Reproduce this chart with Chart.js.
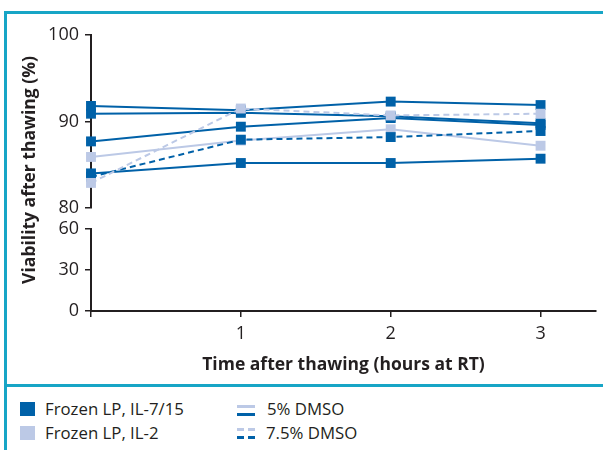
<!DOCTYPE html>
<html>
<head>
<meta charset="utf-8">
<script src="https://cdn.jsdelivr.net/npm/chart.js@4"></script>
<style>
    body { margin: 0; background: #fff; font-family: 'Open Sans', sans-serif; color: #231f20; }
    #wrap { position: relative; width: 603px; height: 450px; overflow: hidden; }
    .frame { position: absolute; left: 4px; top: 11px; right: -10px; bottom: -10px;
        border-left: 3px solid #17a5c6; border-top: 3px solid #17a5c6; }
    .divider { position: absolute; left: 4px; right: 0; top: 384px; height: 3px; background: #17a5c6; }
    canvas { position: absolute; left: 0; top: 0; }
    .lg { position: absolute; font-size: 16.8px; line-height: 20px; white-space: nowrap; }
    .sw { position: absolute; width: 15px; height: 14px; }
    .ln { position: absolute; height: 3px; }
</style>
</head>
<body>
<div id="wrap">
    <div class="frame"></div>
    <canvas id="myChart" width="603" height="384"></canvas>
    <div class="divider"></div>

    <div class="sw" style="left:20px;top:402px;background:#0061a8"></div>
    <div class="lg" style="left:45px;top:399px">Frozen LP, IL-7/15</div>
    <div class="sw" style="left:20px;top:426px;background:#bcc9e6"></div>
    <div class="lg" style="left:45px;top:423px">Frozen LP, IL-2</div>

    <div class="ln" style="left:237px;top:405px;width:18px;background:#bcc9e6"></div>
    <div class="ln" style="left:237px;top:413px;width:18px;background:#0061a8"></div>
    <div class="lg" style="left:267px;top:399px">5% DMSO</div>
    <div class="ln" style="left:237px;top:428px;width:7px;background:#bcc9e6"></div>
    <div class="ln" style="left:248px;top:428px;width:7px;background:#bcc9e6"></div>
    <div class="ln" style="left:237px;top:436px;width:7px;background:#0061a8"></div>
    <div class="ln" style="left:248px;top:436px;width:7px;background:#0061a8"></div>
    <div class="lg" style="left:266px;top:423px">7.5% DMSO</div>
</div>
<script>
'use strict';
//Data
const hours = [0, 1, 2, 3];
const xTicks = [0, 1, 2, 3];
const yTopTicks = [80, 90, 100];
const yLowTicks = [0, 30, 60];

// Frozen LP, IL-7/15, 5% DMSO (four donors)
const il715Dmso5A = [91.8, 91.3, 92.3, 91.9];
const il715Dmso5B = [90.9, 91.0, 90.6, 89.8];
const il715Dmso5C = [87.7, 89.4, 90.4, 89.6];
const il715Dmso5D = [84.0, 85.2, 85.2, 85.7];
// Frozen LP, IL-7/15, 7.5% DMSO
const il715Dmso75 = [83.6, 87.9, 88.2, 88.9];
// Frozen LP, IL-2, 5% DMSO
const il2Dmso5 = [85.9, 87.8, 89.1, 87.2];
// Frozen LP, IL-2, 7.5% DMSO
const il2Dmso75 = [82.9, 91.5, 90.7, 90.9];

const xTitle = 'Time after thawing (hours at RT)';
const yTitle = 'Viability after thawing (%)';

const dark = '#0061a8';
const light = '#bcc9e6';
const ink = '#231f20';
const font = 'Open Sans';

function series(values, color, dashed) {
    return {
        data: values.map((v, i) => ({ x: hours[i], y: v })),
        yAxisID: 'yTop',
        borderColor: color,
        borderWidth: 2,
        borderDash: dashed ? [6, 4] : [],
        backgroundColor: color,
        pointStyle: 'rect',
        pointRadius: 7,
        pointBorderWidth: 0,
        pointBackgroundColor: color,
        tension: 0,
        clip: false,
    };
}

//first dataset is painted on top
const datasets = [
    series(il2Dmso75, light, true),
    series(il715Dmso75, dark, true),
    series(il2Dmso5, light, false),
    series(il715Dmso5A, dark, false),
    series(il715Dmso5B, dark, false),
    series(il715Dmso5C, dark, false),
    series(il715Dmso5D, dark, false),
];

const axisGrid = {
    display: true,
    drawOnChartArea: false,
    drawTicks: true,
    tickLength: 6,
    color: ink,
    lineWidth: 1.5,
};
const tickFont = { family: font, size: 18 };

const yTitlePlugin = {
    id: 'yTitle',
    afterDraw(chart) {
        const ctx = chart.ctx;
        ctx.save();
        ctx.translate(30, 170);
        ctx.rotate(-Math.PI / 2);
        ctx.font = 'bold 17.5px "' + font + '"';
        ctx.fillStyle = ink;
        ctx.textAlign = 'center';
        ctx.textBaseline = 'middle';
        ctx.fillText(yTitle, 0, 0);
        ctx.restore();
    },
};

const config = {
    type: 'line',
    data: { datasets: datasets },
    options: {
        responsive: false,
        animation: false,
        devicePixelRatio: 1,
        layout: { padding: { top: 35, right: 6, left: 0, bottom: 0 } },
        plugins: { legend: { display: false }, tooltip: { enabled: false } },
        scales: {
            x: {
                type: 'linear',
                min: 0,
                max: 3.37,
                afterBuildTicks: (s) => { s.ticks = xTicks.map((v) => ({ value: v })); },
                afterFit: (s) => { s.height = 73; },
                grid: axisGrid,
                border: { display: true, color: ink, width: 2 },
                ticks: {
                    color: ink,
                    font: tickFont,
                    padding: 6,
                    callback: (v) => (v === 0 ? '' : v),
                },
                title: {
                    display: true,
                    text: xTitle,
                    color: ink,
                    font: { family: font, size: 17.5, weight: 'bold' },
                    padding: { top: 0, bottom: 8 },
                },
            },
            yLow: {
                type: 'linear',
                position: 'left',
                stack: 'y',
                stackWeight: 82,
                min: 0,
                max: 60,
                afterBuildTicks: (s) => { s.ticks = yLowTicks.map((v) => ({ value: v })); },
                afterFit: (s) => { s.width = 91; },
                grid: axisGrid,
                border: { display: true, color: ink, width: 2 },
                ticks: { color: ink, font: tickFont, padding: 6 },
            },
            yGap: {
                type: 'linear',
                position: 'left',
                stack: 'y',
                stackWeight: 21,
                min: 0,
                max: 1,
                afterFit: (s) => { s.width = 91; },
                grid: { display: false },
                border: { display: false },
                ticks: { display: false },
            },
            yTop: {
                type: 'linear',
                position: 'left',
                stack: 'y',
                stackWeight: 173,
                min: 80,
                max: 100,
                afterBuildTicks: (s) => { s.ticks = yTopTicks.map((v) => ({ value: v })); },
                afterFit: (s) => { s.width = 91; },
                grid: axisGrid,
                border: { display: true, color: ink, width: 2 },
                ticks: { color: ink, font: tickFont, padding: 6 },
            },
        },
    },
    plugins: [yTitlePlugin],
};

const myChart = new Chart(document.getElementById('myChart'), config);
</script>
</body>
</html>
